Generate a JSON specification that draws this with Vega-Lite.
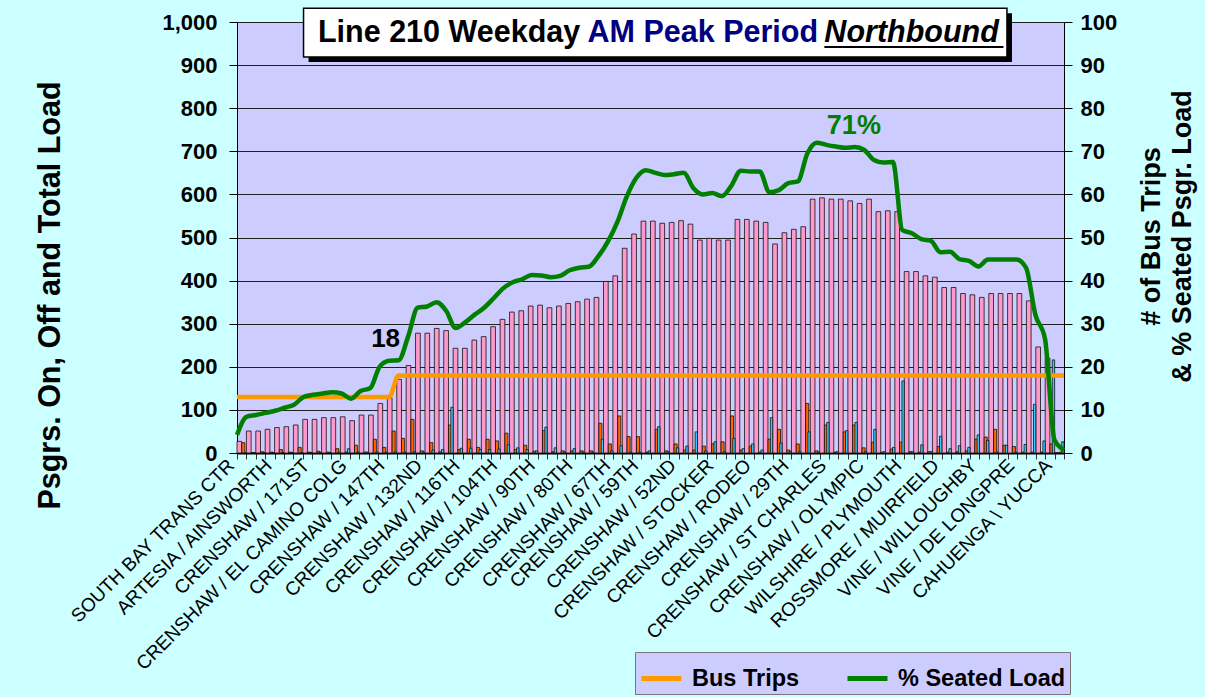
{
  "$schema": "https://vega.github.io/schema/vega-lite/v6.json",
  "width": 827,
  "height": 431,
  "autosize": {"type": "none"},
  "padding": {"left": 237, "top": 22, "right": 141, "bottom": 244},
  "background": "#CCFFFF",
  "config": {
    "view": {"fill": "#CCCCFF", "stroke": null},
    "font": "Liberation Sans",
    "axis": {"labelFont": "Liberation Sans", "titleFont": "Liberation Sans"},
    "legend": {"labelFont": "Liberation Sans"},
    "text": {"font": "Liberation Sans"}
  },
  "data": {
    "values": [
      {"seq": 1, "stop": "SOUTH BAY TRANS CTR", "load": 27, "on": 24, "off": 0, "Bus Trips": 13, "% Seated Load": 4.2},
      {"seq": 2, "load": 51, "on": 1, "off": 0, "Bus Trips": 13, "% Seated Load": 8.4},
      {"seq": 3, "load": 51, "on": 3, "off": 1, "Bus Trips": 13, "% Seated Load": 8.8},
      {"seq": 4, "load": 55, "on": 2, "off": 1, "Bus Trips": 13, "% Seated Load": 9.3},
      {"seq": 5, "stop": "ARTESIA / AINSWORTH", "load": 59, "on": 8, "off": 1, "Bus Trips": 13, "% Seated Load": 9.8},
      {"seq": 6, "load": 61, "on": 2, "off": 1, "Bus Trips": 13, "% Seated Load": 10.5},
      {"seq": 7, "load": 65, "on": 13, "off": 1, "Bus Trips": 13, "% Seated Load": 11.2},
      {"seq": 8, "load": 78, "on": 2, "off": 1, "Bus Trips": 13, "% Seated Load": 13.0},
      {"seq": 9, "stop": "CRENSHAW / 171ST", "load": 78, "on": 4, "off": 1, "Bus Trips": 13, "% Seated Load": 13.5},
      {"seq": 10, "load": 82, "on": 2, "off": 1, "Bus Trips": 13, "% Seated Load": 13.8},
      {"seq": 11, "load": 82, "on": 10, "off": 2, "Bus Trips": 13, "% Seated Load": 14.1},
      {"seq": 12, "load": 84, "on": 2, "off": 10, "Bus Trips": 13, "% Seated Load": 13.8},
      {"seq": 13, "stop": "CRENSHAW / EL CAMINO COLG", "load": 75, "on": 18, "off": 2, "Bus Trips": 13, "% Seated Load": 12.6},
      {"seq": 14, "load": 88, "on": 2, "off": 2, "Bus Trips": 13, "% Seated Load": 14.4},
      {"seq": 15, "load": 88, "on": 32, "off": 2, "Bus Trips": 13, "% Seated Load": 15.0},
      {"seq": 16, "load": 115, "on": 13, "off": 2, "Bus Trips": 13, "% Seated Load": 20.0},
      {"seq": 17, "stop": "CRENSHAW / 147TH", "load": 128, "on": 51, "off": 3, "Bus Trips": 13, "% Seated Load": 21.4},
      {"seq": 18, "load": 171, "on": 34, "off": 2, "Bus Trips": 18, "% Seated Load": 21.5, "tripsNote": "18"},
      {"seq": 19, "load": 203, "on": 78, "off": 3, "Bus Trips": 18, "% Seated Load": 27.0},
      {"seq": 20, "load": 278, "on": 5, "off": 2, "Bus Trips": 18, "% Seated Load": 33.7},
      {"seq": 21, "stop": "CRENSHAW / 132ND", "load": 278, "on": 24, "off": 7, "Bus Trips": 18, "% Seated Load": 34.0},
      {"seq": 22, "load": 289, "on": 3, "off": 8, "Bus Trips": 18, "% Seated Load": 35.0},
      {"seq": 23, "load": 284, "on": 65, "off": 106, "Bus Trips": 18, "% Seated Load": 33.0},
      {"seq": 24, "load": 243, "on": 8, "off": 11, "Bus Trips": 18, "% Seated Load": 29.0},
      {"seq": 25, "stop": "CRENSHAW / 116TH", "load": 243, "on": 32, "off": 11, "Bus Trips": 18, "% Seated Load": 30.3},
      {"seq": 26, "load": 262, "on": 13, "off": 8, "Bus Trips": 18, "% Seated Load": 32.1},
      {"seq": 27, "load": 270, "on": 32, "off": 8, "Bus Trips": 18, "% Seated Load": 33.7},
      {"seq": 28, "load": 293, "on": 28, "off": 9, "Bus Trips": 18, "% Seated Load": 35.9},
      {"seq": 29, "stop": "CRENSHAW / 104TH", "load": 310, "on": 46, "off": 19, "Bus Trips": 18, "% Seated Load": 38.2},
      {"seq": 30, "load": 327, "on": 8, "off": 12, "Bus Trips": 18, "% Seated Load": 39.6},
      {"seq": 31, "load": 330, "on": 18, "off": 8, "Bus Trips": 18, "% Seated Load": 40.3},
      {"seq": 32, "load": 341, "on": 4, "off": 5, "Bus Trips": 18, "% Seated Load": 41.3},
      {"seq": 33, "stop": "CRENSHAW / 90TH", "load": 343, "on": 52, "off": 60, "Bus Trips": 18, "% Seated Load": 41.2},
      {"seq": 34, "load": 337, "on": 3, "off": 12, "Bus Trips": 18, "% Seated Load": 40.8},
      {"seq": 35, "load": 341, "on": 5, "off": 2, "Bus Trips": 18, "% Seated Load": 41.1},
      {"seq": 36, "load": 347, "on": 5, "off": 10, "Bus Trips": 18, "% Seated Load": 42.4},
      {"seq": 37, "stop": "CRENSHAW / 80TH", "load": 351, "on": 5, "off": 2, "Bus Trips": 18, "% Seated Load": 43.0},
      {"seq": 38, "load": 357, "on": 5, "off": 2, "Bus Trips": 18, "% Seated Load": 43.2},
      {"seq": 39, "load": 361, "on": 69, "off": 32, "Bus Trips": 18, "% Seated Load": 45.6},
      {"seq": 40, "load": 398, "on": 21, "off": 5, "Bus Trips": 18, "% Seated Load": 49.0},
      {"seq": 41, "stop": "CRENSHAW / 67TH", "load": 411, "on": 86, "off": 17, "Bus Trips": 18, "% Seated Load": 53.5},
      {"seq": 42, "load": 475, "on": 38, "off": 2, "Bus Trips": 18, "% Seated Load": 59.5},
      {"seq": 43, "load": 508, "on": 38, "off": 2, "Bus Trips": 18, "% Seated Load": 63.8},
      {"seq": 44, "stop": "CRENSHAW / 59TH", "load": 538, "on": 2, "off": 5, "Bus Trips": 18, "% Seated Load": 65.6},
      {"seq": 45, "load": 538, "on": 55, "off": 61, "Bus Trips": 18, "% Seated Load": 65.0},
      {"seq": 46, "load": 533, "on": 5, "off": 3, "Bus Trips": 18, "% Seated Load": 64.5},
      {"seq": 47, "load": 535, "on": 21, "off": 12, "Bus Trips": 18, "% Seated Load": 64.7},
      {"seq": 48, "stop": "CRENSHAW / 52ND", "load": 539, "on": 7, "off": 16, "Bus Trips": 18, "% Seated Load": 65.0},
      {"seq": 49, "load": 531, "on": 7, "off": 49, "Bus Trips": 18, "% Seated Load": 61.5},
      {"seq": 50, "load": 494, "on": 16, "off": 5, "Bus Trips": 18, "% Seated Load": 60.0},
      {"seq": 51, "load": 498, "on": 21, "off": 26, "Bus Trips": 18, "% Seated Load": 60.3},
      {"seq": 52, "stop": "CRENSHAW / STOCKER", "load": 494, "on": 26, "off": 3, "Bus Trips": 18, "% Seated Load": 59.6},
      {"seq": 53, "load": 494, "on": 86, "off": 34, "Bus Trips": 18, "% Seated Load": 62.0},
      {"seq": 54, "load": 542, "on": 7, "off": 10, "Bus Trips": 18, "% Seated Load": 65.5},
      {"seq": 55, "load": 542, "on": 16, "off": 21, "Bus Trips": 18, "% Seated Load": 65.3},
      {"seq": 56, "stop": "CRENSHAW / RODEO", "load": 538, "on": 2, "off": 7, "Bus Trips": 18, "% Seated Load": 65.3},
      {"seq": 57, "load": 535, "on": 32, "off": 82, "Bus Trips": 18, "% Seated Load": 60.5},
      {"seq": 58, "load": 485, "on": 55, "off": 23, "Bus Trips": 18, "% Seated Load": 61.0},
      {"seq": 59, "load": 511, "on": 7, "off": 3, "Bus Trips": 18, "% Seated Load": 62.6},
      {"seq": 60, "stop": "CRENSHAW / 29TH", "load": 519, "on": 21, "off": 3, "Bus Trips": 18, "% Seated Load": 63.0},
      {"seq": 61, "load": 525, "on": 115, "off": 49, "Bus Trips": 18, "% Seated Load": 69.5},
      {"seq": 62, "load": 589, "on": 5, "off": 2, "Bus Trips": 18, "% Seated Load": 72.0},
      {"seq": 63, "load": 592, "on": 65, "off": 71, "Bus Trips": 18, "% Seated Load": 71.5},
      {"seq": 64, "stop": "CRENSHAW / ST CHARLES", "load": 589, "on": 2, "off": 3, "Bus Trips": 18, "% Seated Load": 71.1},
      {"seq": 65, "load": 589, "on": 49, "off": 52, "Bus Trips": 18, "% Seated Load": 70.8},
      {"seq": 66, "load": 585, "on": 65, "off": 71, "Bus Trips": 18, "% Seated Load": 71.0, "seatedNote": "71%"},
      {"seq": 67, "load": 579, "on": 12, "off": 3, "Bus Trips": 18, "% Seated Load": 70.3},
      {"seq": 68, "stop": "CRENSHAW / OLYMPIC", "load": 589, "on": 25, "off": 55, "Bus Trips": 18, "% Seated Load": 68.0},
      {"seq": 69, "load": 560, "on": 2, "off": 3, "Bus Trips": 18, "% Seated Load": 67.4},
      {"seq": 70, "load": 562, "on": 9, "off": 13, "Bus Trips": 18, "% Seated Load": 67.5},
      {"seq": 71, "load": 560, "on": 25, "off": 167, "Bus Trips": 18, "% Seated Load": 51.7},
      {"seq": 72, "stop": "WILSHIRE / PLYMOUTH", "load": 421, "on": 3, "off": 3, "Bus Trips": 18, "% Seated Load": 51.0},
      {"seq": 73, "load": 421, "on": 2, "off": 19, "Bus Trips": 18, "% Seated Load": 49.6},
      {"seq": 74, "load": 411, "on": 3, "off": 3, "Bus Trips": 18, "% Seated Load": 49.2},
      {"seq": 75, "load": 408, "on": 15, "off": 39, "Bus Trips": 18, "% Seated Load": 46.6},
      {"seq": 76, "stop": "ROSSMORE / MUIRFIELD", "load": 384, "on": 2, "off": 10, "Bus Trips": 18, "% Seated Load": 46.7},
      {"seq": 77, "load": 384, "on": 3, "off": 17, "Bus Trips": 18, "% Seated Load": 45.0},
      {"seq": 78, "load": 370, "on": 5, "off": 13, "Bus Trips": 18, "% Seated Load": 44.6},
      {"seq": 79, "load": 367, "on": 32, "off": 42, "Bus Trips": 18, "% Seated Load": 43.3},
      {"seq": 80, "stop": "VINE / WILLOUGHBY", "load": 361, "on": 37, "off": 29, "Bus Trips": 18, "% Seated Load": 44.9},
      {"seq": 81, "load": 370, "on": 55, "off": 2, "Bus Trips": 18, "% Seated Load": 44.9},
      {"seq": 82, "load": 370, "on": 18, "off": 18, "Bus Trips": 18, "% Seated Load": 44.9},
      {"seq": 83, "load": 370, "on": 15, "off": 2, "Bus Trips": 18, "% Seated Load": 44.9},
      {"seq": 84, "stop": "VINE / DE LONGPRE", "load": 370, "on": 2, "off": 20, "Bus Trips": 18, "% Seated Load": 43.0},
      {"seq": 85, "load": 353, "on": 2, "off": 113, "Bus Trips": 18, "% Seated Load": 32.0},
      {"seq": 86, "load": 246, "on": 2, "off": 28, "Bus Trips": 18, "% Seated Load": 26.5},
      {"seq": 87, "load": 220, "on": 21, "off": 216, "Bus Trips": 18, "% Seated Load": 3.0},
      {"seq": 88, "stop": "CAHUENGA \\ YUCCA", "load": 0, "on": 2, "off": 26, "Bus Trips": 18, "% Seated Load": 0.7}
    ]
  },
  "layer": [
    {
      "layer": [
        {
          "mark": {"type": "bar", "fill": "#FF99CC", "stroke": "#111111", "strokeWidth": 0.8, "width": {"band": 0.5}, "xOffset": -2.35},
          "encoding": {
            "x": {
              "field": "seq", "type": "ordinal",
              "scale": {"paddingInner": 0, "paddingOuter": 0},
              "axis": {
                "title": null,
                "labelExpr": "indexof([1,5,9,13,17,21,25,29,33,37,41,44,48,52,56,60,64,68,72,76,80,84,88], datum.value) >= 0 ? ['SOUTH BAY TRANS CTR','ARTESIA / AINSWORTH','CRENSHAW / 171ST','CRENSHAW / EL CAMINO COLG','CRENSHAW / 147TH','CRENSHAW / 132ND','CRENSHAW / 116TH','CRENSHAW / 104TH','CRENSHAW / 90TH','CRENSHAW / 80TH','CRENSHAW / 67TH','CRENSHAW / 59TH','CRENSHAW / 52ND','CRENSHAW / STOCKER','CRENSHAW / RODEO','CRENSHAW / 29TH','CRENSHAW / ST CHARLES','CRENSHAW / OLYMPIC','WILSHIRE / PLYMOUTH','ROSSMORE / MUIRFIELD','VINE / WILLOUGHBY','VINE / DE LONGPRE','CAHUENGA \\\\ YUCCA'][indexof([1,5,9,13,17,21,25,29,33,37,41,44,48,52,56,60,64,68,72,76,80,84,88], datum.value)] : ''",
                "labelAngle": -45,
                "labelAlign": "right",
                "labelBaseline": "middle",
                "labelFontSize": 19,
                "labelColor": "black",
                "labelPadding": 3,
                "labelOffset": -11,
                "labelLimit": 500,
                "labelOverlap": false,
                "labelBound": false,
                "labelFlush": false,
                "tickBand": "extent",
                "tickSize": 6,
                "tickColor": "#333333",
                "domainColor": "black",
                "domainWidth": 2,
                "grid": false
              }
            },
            "y": {
              "field": "load", "type": "quantitative",
              "scale": {"domain": [0, 1000], "nice": false},
              "axis": {
                "title": "Psgrs. On, Off and Total Load",
                "values": [0, 100, 200, 300, 400, 500, 600, 700, 800, 900, 1000],
                "format": ",.0f",
                "labelFontSize": 22,
                "labelFontWeight": "bold",
                "labelColor": "black",
                "labelPadding": 12,
                "tickSize": 8,
                "tickColor": "black",
                "domainColor": "black",
                "grid": true,
                "gridColor": "#222222",
                "gridWidth": 1,
                "titleFontSize": 30.5,
                "titleFontWeight": "bold",
                "titleColor": "black",
                "titleAngle": -90,
                "titleX": -187,
                "titleY": 273,
                "titleAlign": "center",
                "titleBaseline": "middle"
              }
            }
          }
        },
        {
          "mark": {"type": "bar", "fill": "#FF6600", "stroke": "#111111", "strokeWidth": 0.8, "width": {"band": 0.33}, "xOffset": 1.6},
          "encoding": {
            "x": {"field": "seq", "type": "ordinal"},
            "y": {"field": "on", "type": "quantitative"}
          }
        },
        {
          "mark": {"type": "bar", "fill": "#33CCFF", "stroke": "#111111", "strokeWidth": 0.8, "width": {"band": 0.25}, "xOffset": 3.55},
          "encoding": {
            "x": {"field": "seq", "type": "ordinal"},
            "y": {"field": "off", "type": "quantitative"}
          }
        }
      ]
    },
    {
      "layer": [
        {
          "transform": [{"fold": ["Bus Trips", "% Seated Load"], "as": ["metric", "pct"]}],
          "mark": {"type": "line", "interpolate": "monotone", "strokeWidth": 4.5},
          "encoding": {
            "x": {"field": "seq", "type": "ordinal", "scale": {"type": "point", "padding": 0}, "axis": null},
            "y": {
              "field": "pct", "type": "quantitative",
              "scale": {"domain": [0, 100], "nice": false},
              "axis": {
                "orient": "right",
                "title": ["# of Bus Trips", "& % Seated Psgr. Load"],
                "values": [0, 10, 20, 30, 40, 50, 60, 70, 80, 90, 100],
                "labelFontSize": 22,
                "labelFontWeight": "bold",
                "labelColor": "black",
                "labelPadding": 8,
                "tickSize": 8,
                "tickColor": "black",
                "domainColor": "black",
                "grid": false,
                "titleFontSize": 27,
                "titleFontWeight": "bold",
                "titleColor": "black",
                "titleAngle": -90,
                "titleX": 87,
                "titleY": 214,
                "titleAlign": "center",
                "titleBaseline": "middle",
                "titleLineHeight": 31
              }
            },
            "color": {
              "field": "metric", "type": "nominal",
              "scale": {"domain": ["Bus Trips", "% Seated Load"], "range": ["#FF9900", "#008000"]},
              "legend": {
                "title": null,
                "orient": "none",
                "legendX": 398,
                "legendY": 630,
                "direction": "horizontal",
                "symbolType": "stroke",
                "symbolSize": 1600,
                "symbolStrokeWidth": 5,
                "labelFontSize": 23.5,
                "labelFontWeight": "bold",
                "labelColor": "black",
                "labelOffset": 8,
                "labelLimit": 300,
                "columnPadding": 37,
                "fillColor": "#CCCCFF",
                "strokeColor": "#777777",
                "padding": 4
              }
            }
          }
        },
        {
          "transform": [
            {"fold": ["Bus Trips", "% Seated Load"], "as": ["metric", "pct"]},
            {"filter": "datum.metric == 'Bus Trips' && isValid(datum.tripsNote)"}
          ],
          "mark": {"type": "text", "fontSize": 26, "fontWeight": "bold", "color": "black", "baseline": "middle", "dx": -13, "dy": -36},
          "encoding": {
            "x": {"field": "seq", "type": "ordinal"},
            "y": {"field": "pct", "type": "quantitative"},
            "text": {"field": "tripsNote"}
          }
        },
        {
          "transform": [
            {"fold": ["Bus Trips", "% Seated Load"], "as": ["metric", "pct"]},
            {"filter": "datum.metric == '% Seated Load' && isValid(datum.seatedNote)"}
          ],
          "mark": {"type": "text", "fontSize": 27, "fontWeight": "bold", "color": "#008000", "baseline": "middle", "dx": -1, "dy": -21},
          "encoding": {
            "x": {"field": "seq", "type": "ordinal"},
            "y": {"field": "pct", "type": "quantitative"},
            "text": {"field": "seatedNote"}
          }
        },
        {
          "data": {"values": [{}]},
          "mark": {"type": "rect", "fill": "black", "xOffset": 5, "x2Offset": 5, "yOffset": 5, "y2Offset": 5},
          "encoding": {
            "x": {"datum": 8, "type": "ordinal"},
            "x2": {"datum": 82},
            "y": {"datum": 103.2, "type": "quantitative"},
            "y2": {"datum": 91.9}
          }
        },
        {
          "data": {"values": [{}]},
          "mark": {"type": "rect", "fill": "white", "stroke": "black", "strokeWidth": 1.5},
          "encoding": {
            "x": {"datum": 8, "type": "ordinal"},
            "x2": {"datum": 82},
            "y": {"datum": 103.2, "type": "quantitative"},
            "y2": {"datum": 91.9}
          }
        },
        {
          "data": {"values": [{}]},
          "mark": {"type": "text", "text": "Line 210 Weekday", "fontSize": 30.5, "fontWeight": "bold", "color": "black", "align": "right", "baseline": "middle", "dx": 1},
          "encoding": {
            "x": {"datum": 37, "type": "ordinal"},
            "y": {"datum": 97.4, "type": "quantitative"}
          }
        },
        {
          "data": {"values": [{}]},
          "mark": {"type": "text", "text": "AM Peak Period", "fontSize": 30.5, "fontWeight": "bold", "color": "#000080", "align": "center", "baseline": "middle"},
          "encoding": {
            "x": {"datum": 50, "type": "ordinal"},
            "y": {"datum": 97.4, "type": "quantitative"}
          }
        },
        {
          "data": {"values": [{}]},
          "mark": {"type": "text", "text": "Northbound", "fontSize": 30.5, "fontWeight": "bold", "fontStyle": "italic", "color": "black", "align": "left", "baseline": "middle", "dx": -2},
          "encoding": {
            "x": {"datum": 63, "type": "ordinal"},
            "y": {"datum": 97.4, "type": "quantitative"}
          }
        },
        {
          "data": {"values": [{}]},
          "mark": {"type": "rule", "color": "black", "strokeWidth": 2, "xOffset": -2, "x2Offset": 6},
          "encoding": {
            "x": {"datum": 63, "type": "ordinal"},
            "x2": {"datum": 81},
            "y": {"datum": 94.2, "type": "quantitative"}
          }
        }
      ]
    }
  ],
  "resolve": {"scale": {"x": "independent", "y": "independent"}}
}
